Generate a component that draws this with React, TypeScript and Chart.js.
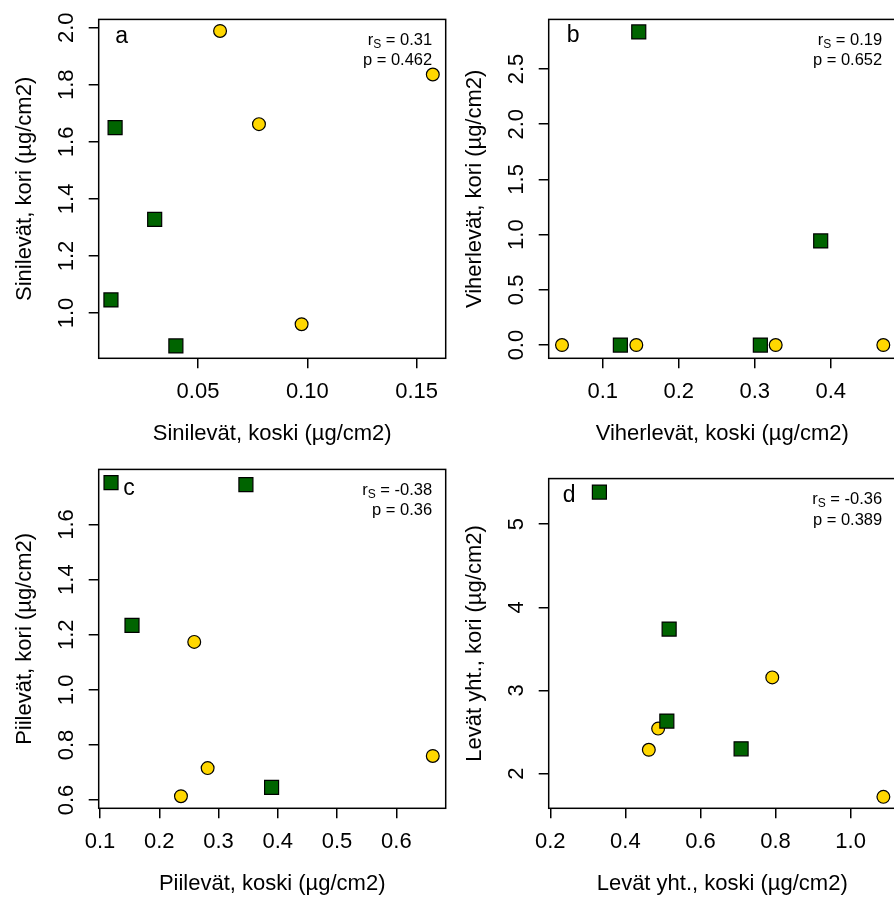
import React, { useEffect, useRef } from "react";
import { Chart, registerables } from "chart.js";

Chart.register(...registerables);

const FONT = '"Liberation Sans", Arial, Helvetica, sans-serif';
const YELLOW = "#FFD700";
const GREEN = "#006400";

// ---------- Data ----------
// Panel a: Sinilevät
const aCircleX = [0.0601, 0.1574, 0.0779, 0.0974];
const aCircleY = [1.9885, 1.836, 1.662, 0.961];
const aSquareX = [0.0121, 0.0302, 0.0102, 0.0399];
const aSquareY = [1.65, 1.328, 1.046, 0.885];
const aXTicks = [0.05, 0.1, 0.15];
const aYTicks = [1.0, 1.2, 1.4, 1.6, 1.8, 2.0];

// Panel b: Viherlevät
const bCircleX = [0.0464, 0.1442, 0.3276, 0.4692];
const bCircleY = [0, 0, 0, 0];
const bSquareX = [0.1474, 0.1232, 0.3074, 0.3868];
const bSquareY = [2.836, 0, 0, 0.943];
const bXTicks = [0.1, 0.2, 0.3, 0.4];
const bYTicks = [0.0, 0.5, 1.0, 1.5, 2.0, 2.5];

// Panel c: Piilevät
const cCircleX = [0.259, 0.2816, 0.2366, 0.6615];
const cCircleY = [1.174, 0.716, 0.614, 0.76];
const cSquareX = [0.1186, 0.3462, 0.154, 0.3895];
const cSquareY = [1.752, 1.745, 1.234, 0.646];
const cXTicks = [0.1, 0.2, 0.3, 0.4, 0.5, 0.6];
const cYTicks = [0.6, 0.8, 1.0, 1.2, 1.4, 1.6];

// Panel d: Levät yht.
const dCircleX = [0.7912, 0.4872, 0.4624, 1.0872];
const dCircleY = [3.157, 2.541, 2.286, 1.72];
const dSquareX = [0.3307, 0.5165, 0.5104, 0.7082];
const dSquareY = [5.387, 3.738, 2.631, 2.297];
const dXTicks = [0.2, 0.4, 0.6, 0.8, 1.0];
const dYTicks = [2, 3, 4, 5];

const panelLetters = ["a", "b", "c", "d"];
const rsValues = ["0.31", "0.19", "-0.38", "-0.36"];
const pValues = ["0.462", "0.652", "0.36", "0.389"];
const xTitles = [
  "Sinilevät, koski (µg/cm2)",
  "Viherlevät, koski (µg/cm2)",
  "Piilevät, koski (µg/cm2)",
  "Levät yht., koski (µg/cm2)",
];
const yTitles = [
  "Sinilevät, kori (µg/cm2)",
  "Viherlevät, kori (µg/cm2)",
  "Piilevät, kori (µg/cm2)",
  "Levät yht., kori (µg/cm2)",
];

// ---------- Layout ----------
const CW = 449;
const CH = 450;
const FS = 22;

type PanelCfg = {
  idx: number;
  left: number;
  top: number;
  area: { left: number; top: number; right: number; bottom: number };
  xRange: [number, number];
  yRange: [number, number];
  xDec: number;
  yDec: number;
  circleX: number[];
  circleY: number[];
  squareX: number[];
  squareY: number[];
  xTicks: number[];
  yTicks: number[];
  letterDx: number;
  letterDy: number;
};

const panels: PanelCfg[] = [
  {
    idx: 0, left: 0, top: 0,
    area: { left: 98.7, top: 16.7, right: 445.7, bottom: 358.3 },
    xRange: [0.0046, 0.1633], yRange: [0.8415, 2.029], xDec: 2, yDec: 1,
    circleX: aCircleX, circleY: aCircleY, squareX: aSquareX, squareY: aSquareY,
    xTicks: aXTicks, yTicks: aYTicks, letterDx: 16.5, letterDy: 17,
  },
  {
    idx: 1, left: 447, top: 0,
    area: { left: 101.7, top: 16.7, right: 448.7, bottom: 358.3 },
    xRange: [0.0289, 0.4855], yRange: [-0.1198, 2.949], xDec: 1, yDec: 1,
    circleX: bCircleX, circleY: bCircleY, squareX: bSquareX, squareY: bSquareY,
    xTicks: bXTicks, yTicks: bYTicks, letterDx: 18, letterDy: 16.5,
  },
  {
    idx: 2, left: 0, top: 450,
    area: { left: 98.7, top: 16.7, right: 445.7, bottom: 358.3 },
    xRange: [0.0978, 0.6833], yRange: [0.57, 1.8002], xDec: 1, yDec: 1,
    circleX: cCircleX, circleY: cCircleY, squareX: cSquareX, squareY: cSquareY,
    xTicks: cXTicks, yTicks: cYTicks, letterDx: 24.5, letterDy: 19,
  },
  {
    idx: 3, left: 447, top: 450,
    area: { left: 101.7, top: 16.7, right: 448.7, bottom: 358.3 },
    xRange: [0.1957, 1.12], yRange: [1.582, 5.549], xDec: 1, yDec: 0,
    circleX: dCircleX, circleY: dCircleY, squareX: dSquareX, squareY: dSquareY,
    xTicks: dXTicks, yTicks: dYTicks, letterDx: 14, letterDy: 17,
  },
];

function measure(texts: string[], size: number): number {
  const c = document.createElement("canvas").getContext("2d")!;
  c.font = `${size}px ${FONT}`;
  return Math.max(...texts.map((t) => c.measureText(t).width));
}

const decorPlugin = {
  id: "panelDecor",
  beforeDatasetsDraw(chart: any) {
    const { ctx, chartArea: a } = chart;
    ctx.save();
    ctx.strokeStyle = "#000";
    ctx.lineWidth = 1.5;
    ctx.strokeRect(a.left, a.top, a.right - a.left, a.bottom - a.top);
    ctx.restore();
  },
  afterDatasetsDraw(chart: any, _args: any, opts: any) {
    const { ctx, chartArea: a } = chart;
    ctx.save();
    ctx.fillStyle = "#000";
    ctx.textBaseline = "middle";
    ctx.textAlign = "left";
    ctx.font = `23px ${FONT}`;
    ctx.fillText(opts.letter, a.left + opts.letterDx, a.top + opts.letterDy);

    const size = 16.5;
    const subSize = 12;
    const right = a.right - 13.5;
    const y1 = a.top + 21;
    const y2 = a.top + 41.5;
    ctx.font = `${size}px ${FONT}`;
    const rest = " = " + opts.rs;
    const wR = ctx.measureText("r").width;
    const wRest = ctx.measureText(rest).width;
    ctx.font = `${subSize}px ${FONT}`;
    const wS = ctx.measureText("S").width;
    let x = right - (wR + wS + wRest);
    ctx.font = `${size}px ${FONT}`;
    ctx.fillText("r", x, y1);
    x += wR;
    ctx.font = `${subSize}px ${FONT}`;
    ctx.fillText("S", x, y1 + 4);
    x += wS;
    ctx.font = `${size}px ${FONT}`;
    ctx.fillText(rest, x, y1);
    ctx.textAlign = "right";
    ctx.fillText("p = " + opts.p, right, y2);
    ctx.restore();
  },
};

function Panel({ cfg }: { cfg: PanelCfg }) {
  const ref = useRef<HTMLCanvasElement>(null);
  useEffect(() => {
    if (!ref.current) return;
    const ar = cfg.area;
    const yLabels = cfg.yTicks.map((v) => v.toFixed(cfg.yDec));
    const widest = measure(yLabels, FS);
    const yTickPad = 31.5 - 10 - widest / 2;
    const lh = FS * 1.2;
    const chart = new Chart(ref.current, {
      type: "scatter",
      data: {
        datasets: [
          {
            label: "squares",
            data: cfg.squareX.map((x, i) => ({ x, y: cfg.squareY[i] })),
            pointStyle: "rect",
            pointRadius: 9.9,
            pointHoverRadius: 9.9,
            backgroundColor: GREEN,
            borderColor: "#000",
            borderWidth: 1.2,
            order: 0,
          },
          {
            label: "circles",
            data: cfg.circleX.map((x, i) => ({ x, y: cfg.circleY[i] })),
            pointStyle: "circle",
            pointRadius: 6.4,
            pointHoverRadius: 6.4,
            backgroundColor: YELLOW,
            borderColor: "#000",
            borderWidth: 1.2,
            order: 1,
          },
        ],
      },
      options: {
        responsive: false,
        animation: false,
        devicePixelRatio: 1,
        events: [],
        layout: {
          autoPadding: false,
          padding: { left: 0, top: ar.top, right: CW - ar.right, bottom: 0 },
        },
        plugins: {
          legend: { display: false },
          tooltip: { enabled: false },
          panelDecor: {
            letter: panelLetters[cfg.idx],
            rs: rsValues[cfg.idx],
            p: pValues[cfg.idx],
            letterDx: cfg.letterDx,
            letterDy: cfg.letterDy,
          },
        } as any,
        scales: {
          x: {
            type: "linear",
            position: "bottom",
            min: cfg.xRange[0],
            max: cfg.xRange[1],
            afterBuildTicks: (s: any) => {
              s.ticks = cfg.xTicks.map((v) => ({ value: v }));
            },
            afterFit: (s: any) => {
              s.height = CH - ar.bottom;
            },
            grid: {
              display: true,
              drawOnChartArea: false,
              drawTicks: true,
              tickLength: 10,
              color: "#000",
              lineWidth: 1.5,
            },
            border: { display: false },
            ticks: {
              color: "#000",
              font: { family: FONT, size: FS },
              padding: 10,
              minRotation: 0,
              maxRotation: 0,
              autoSkip: false,
              callback: (v: any) => Number(v).toFixed(cfg.xDec),
            },
            title: {
              display: true,
              text: xTitles[cfg.idx],
              color: "#000",
              font: { family: FONT, size: FS },
              padding: { top: 0, bottom: CH - 434 - lh / 2 },
            },
          },
          y: {
            type: "linear",
            position: "left",
            min: cfg.yRange[0],
            max: cfg.yRange[1],
            afterBuildTicks: (s: any) => {
              s.ticks = cfg.yTicks.map((v) => ({ value: v }));
            },
            afterFit: (s: any) => {
              s.width = ar.left;
            },
            grid: {
              display: true,
              drawOnChartArea: false,
              drawTicks: true,
              tickLength: 10,
              color: "#000",
              lineWidth: 1.5,
            },
            border: { display: false },
            ticks: {
              color: "#000",
              font: { family: FONT, size: FS },
              padding: yTickPad,
              minRotation: 90,
              maxRotation: 90,
              crossAlign: "center",
              autoSkip: false,
              callback: (v: any) => Number(v).toFixed(cfg.yDec),
            },
            title: {
              display: true,
              text: yTitles[cfg.idx],
              color: "#000",
              font: { family: FONT, size: FS },
              padding: { top: ar.left - 73.5 - lh / 2, bottom: 0 },
            },
          },
        },
      },
      plugins: [decorPlugin as any],
    });
    return () => chart.destroy();
  }, [cfg]);
  return (
    <div
      style={{
        position: "absolute",
        left: cfg.left,
        top: cfg.top,
        width: CW,
        height: CH,
      }}
    >
      <canvas
        ref={ref}
        width={CW}
        height={CH}
        style={{ width: CW, height: CH, display: "block" }}
      />
    </div>
  );
}

export default function App() {
  return (
    <div
      style={{
        position: "absolute",
        left: 0,
        top: 0,
        width: 894,
        height: 899,
        overflow: "hidden",
        background: "#fff",
      }}
    >
      {panels.map((p) => (
        <Panel key={p.idx} cfg={p} />
      ))}
    </div>
  );
}
